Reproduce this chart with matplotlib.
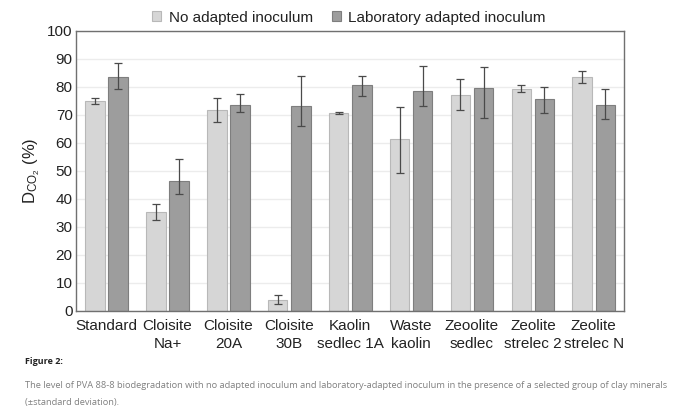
import numpy as np
import matplotlib
matplotlib.use('Agg')
import matplotlib.pyplot as plt

categories = ['Standard', 'Cloisite\nNa+', 'Cloisite\n20A', 'Cloisite\n30B', 'Kaolin\nsedlec 1A',
              'Waste\nkaolin', 'Zeoolite\nsedlec', 'Zeolite\nstrelec 2', 'Zeolite\nstrelec N']

# valeurs moyennes
no_adapted = [75.1, 35.5, 71.7, 4.0, 70.8, 61.3, 77.3, 79.3, 83.7]
lab_adapted = [83.6, 46.4, 73.5, 73.2, 80.8, 78.7, 79.6, 75.7, 73.6]

# barres d'erreur (bas, haut)
no_adapted_low = [73.8, 32.6, 67.4, 2.5, 70.5, 49.2, 71.8, 78.1, 81.4]
no_adapted_high = [75.9, 38.2, 76.0, 5.8, 71.1, 73.0, 82.7, 80.6, 85.8]
lab_adapted_low = [79.3, 41.8, 71.1, 66.1, 76.8, 73.2, 68.8, 70.7, 68.5]
lab_adapted_high = [88.6, 54.2, 77.5, 84.0, 84.0, 87.5, 87.1, 80.0, 79.3]

yticks = list(range(0, 101, 10))

plt.rcParams['font.family'] = ['Liberation Sans', 'DejaVu Sans']
plt.rcParams['mathtext.default'] = 'regular'

fig = plt.figure(figsize=(6.8, 4.18), dpi=100)
ax = fig.add_axes([0.112, 0.256, 0.806, 0.670])

x = np.arange(len(categories))
largeur = 0.32
decalage = 0.19

err_no = [np.array(no_adapted) - np.array(no_adapted_low), np.array(no_adapted_high) - np.array(no_adapted)]
err_lab = [np.array(lab_adapted) - np.array(lab_adapted_low), np.array(lab_adapted_high) - np.array(lab_adapted)]

ax.bar(x - decalage, no_adapted, largeur, color='#d6d6d6', edgecolor='#b8b8b8', linewidth=0.8,
       label='No adapted inoculum', zorder=2)
ax.bar(x + decalage, lab_adapted, largeur, color='#9d9d9d', edgecolor='#7e7e7e', linewidth=0.8,
       label='Laboratory adapted inoculum', zorder=2)
ax.errorbar(x - decalage, no_adapted, yerr=err_no, fmt='none', ecolor='#4a4a4a', elinewidth=0.9,
            capsize=3, capthick=0.9, zorder=3)
ax.errorbar(x + decalage, lab_adapted, yerr=err_lab, fmt='none', ecolor='#4a4a4a', elinewidth=0.9,
            capsize=3, capthick=0.9, zorder=3)

ax.set_xlim(-0.5, len(categories) - 0.5)
ax.set_ylim(0, 100)
ax.set_yticks(yticks)
ax.set_xticks(x)
ax.set_xticklabels(categories, fontsize=11, color='#222222', linespacing=1.35)
ax.tick_params(axis='y', labelsize=11, colors='#222222', length=0, pad=2.5)
ax.tick_params(axis='x', length=0, pad=6)
ax.yaxis.grid(True, color='#ececec', linewidth=1.0, zorder=0)
ax.set_axisbelow(True)
for s in ax.spines.values():
    s.set_color('#707070')
    s.set_linewidth(1.0)

ax.set_ylabel('D$_{CO_2}$ (%)', fontsize=12, color='#222222', labelpad=4)

leg = ax.legend(loc='lower center', bbox_to_anchor=(0.498, 0.995), ncol=2, frameon=False,
                fontsize=11, handlelength=0.6, handleheight=0.6, handletextpad=0.5,
                columnspacing=1.2, borderaxespad=0.1)
for t in leg.get_texts():
    t.set_color('#222222')

# légende de la figure
fig.text(0.037, 0.128, 'Figure 2:', fontsize=6.5, fontweight='bold', family='Open Sans', color='#222222')
fig.text(0.037, 0.072, 'The level of PVA 88-8 biodegradation with no adapted inoculum and laboratory-adapted '
         'inoculum in the presence of a selected group of clay minerals', fontsize=6.65,
         family='Open Sans', color='#808080')
fig.text(0.037, 0.032, '(\u00b1standard deviation).', fontsize=6.65, family='Open Sans', color='#808080')

fig.savefig('out.png', dpi=100)
